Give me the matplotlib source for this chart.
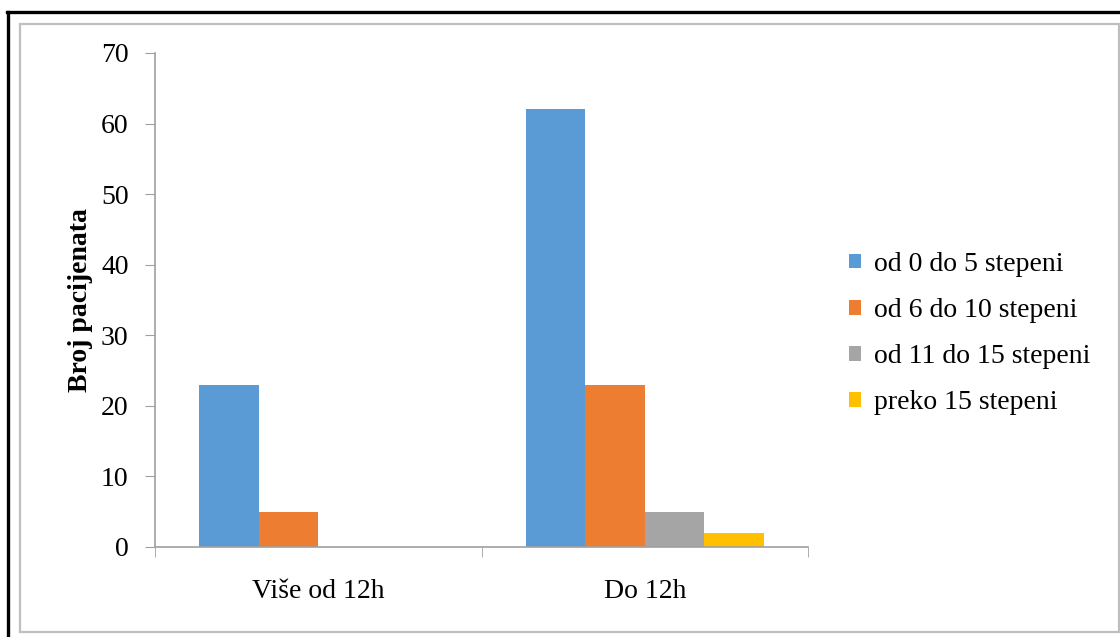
import numpy as np
import matplotlib.pyplot as plt
from matplotlib.lines import Line2D
from matplotlib.patches import Rectangle

# Broj pacijenata po kategoriji vremena i stepenu
categories = ['Više od 12h', 'Do 12h']
series_names = ['od 0 do 5 stepeni', 'od 6 do 10 stepeni',
                'od 11 do 15 stepeni', 'preko 15 stepeni']
values = [
    [23, 62],   # od 0 do 5
    [5, 23],    # od 6 do 10
    [0, 5],     # od 11 do 15
    [0, 2],     # preko 15
]
colors = ['#5B9BD5', '#ED7D31', '#A5A5A5', '#FFC000']
yticks = [0, 10, 20, 30, 40, 50, 60, 70]

plt.rcParams['font.family'] = ['Liberation Serif', 'DejaVu Serif']

W, H = 1120, 637
fig = plt.figure(figsize=(W / 100, H / 100), dpi=100)

def fx(px):
    return px / W

def fy(py):
    return 1 - py / H

# outer frames
fig.add_artist(Line2D([fx(7), fx(1120)], [fy(12), fy(12)], color='black', lw=2.4))
fig.add_artist(Line2D([fx(8), fx(8)], [fy(12), fy(637)], color='black', lw=2.4))
fig.add_artist(Rectangle((fx(20), fy(632)), fx(1119) - fx(20), fy(24) - fy(632),
                         fill=False, edgecolor='#BFBFBF', lw=1.6))

ax = fig.add_axes([fx(155), fy(547), fx(808) - fx(155), fy(53) - fy(547)])

x = np.arange(len(categories))
width = 0.182
for i, (name, vals) in enumerate(zip(series_names, values)):
    offs = (i - 1.5) * width
    ax.bar(x + offs, vals, width, color=colors[i], label=name)

ax.set_xlim(-0.5, len(categories) - 0.5)
ax.set_ylim(0, 70)
ax.set_yticks(yticks)
ax.tick_params(axis='y', labelsize=20, length=7, color='#A0A0A0', pad=12)

ax.set_xticks(x)
ax.set_xticklabels(categories, fontsize=20)
ax.tick_params(axis='x', length=0, pad=23)
ax.set_xticks([-0.5, 0.5, 1.5], minor=True)
ax.tick_params(axis='x', which='minor', length=7, color='#A0A0A0')

for s in ['top', 'right']:
    ax.spines[s].set_visible(False)
for s in ['left', 'bottom']:
    ax.spines[s].set_color('#A0A0A0')
    ax.spines[s].set_linewidth(1.2)

ax.set_ylabel('Broj pacijenata', fontsize=20, fontweight='bold', labelpad=6)

ax.legend(loc='center left', bbox_to_anchor=(1.024, 0.432), frameon=False,
          fontsize=20, handlelength=0.45, handleheight=0.45, handletextpad=0.45,
          labelspacing=0.76)

fig.savefig('out.png', dpi=100)
